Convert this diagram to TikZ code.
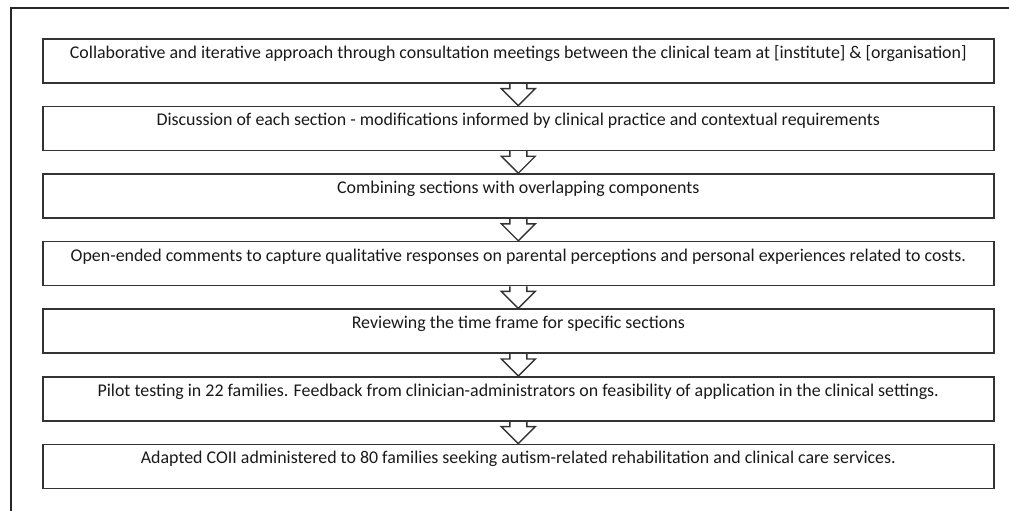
\documentclass[tikz,border=0pt]{standalone}
\usepackage{fontspec}
\setmainfont{Carlito}
\begin{document}
\begin{tikzpicture}[x=1pt,y=1pt,
  stepbox/.style={draw=black!80, line width=1.6pt, rectangle, minimum width=951pt,
    inner xsep=0pt, inner ysep=0pt, text height=19.5pt, text depth=24.5pt,
    text=black!90, font=\fontsize{17.9}{20}\selectfont, anchor=north west},
  blockarrow/.style={draw=black!80, line width=1.4pt, line join=miter}]
\useasboundingbox (0,0) rectangle (1009,-511);
\draw[line width=1.3pt, draw=black!85] (11,-515) -- (11,-8) -- (1015,-8);
\node[stepbox] (b1) at (42,-38) {Collaborative and iterative approach through consultation meetings between the clinical team at [institute] \& [organisation]};
\node[stepbox] (b2) at (42,-105.6) {Discussion of each section - modifications informed by clinical practice and contextual requirements};
\node[stepbox] (b3) at (42,-173.2) {Combining sections with overlapping components};
\node[stepbox] (b4) at (42,-240.8) {Open-ended comments to capture qualitative responses on parental perceptions and personal experiences related to costs.};
\node[stepbox] (b5) at (42,-308.4) {Reviewing the time frame for specific sections};
\node[stepbox] (b6) at (42,-376) {Pilot testing in 22 families. Feedback from clinician-administrators on feasibility of application in the clinical settings.};
\node[stepbox] (b7) at (42,-443.6) {Adapted COII administered to 80 families seeking autism-related rehabilitation and clinical care services.};
\foreach \a/\b in {b1/b2,b2/b3,b3/b4,b4/b5,b5/b6,b6/b7}{
  \draw[blockarrow] ([xshift=-8.5pt]\a.south) -- ++(0,-5) -- ++(-8.5,0) -- (\b.north) -- ([xshift=17pt,yshift=-5pt]\a.south) -- ++(-8.5,0) -- ([xshift=8.5pt]\a.south);
}
\end{tikzpicture}
\end{document}
